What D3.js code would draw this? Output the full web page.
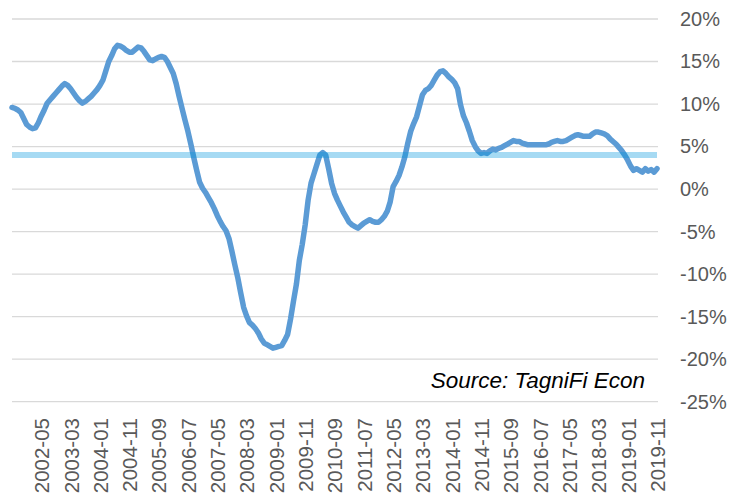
<!DOCTYPE html>
<html>
  <head>
    <meta charset="utf-8">
    <title>Growth rate</title>
    <script src="https://cdn.jsdelivr.net/npm/d3@7/dist/d3.min.js"></script>
    <style>
      body { margin: 0; background: #fff; }
      #chart { display: block; font-family: "Liberation Sans", Arial, sans-serif; }
      .grid line { stroke: #d9d9d9; stroke-width: 1.3; }
      .axis text { fill: #595959; }
      .axis path, .axis line { display: none; }
    </style>
  </head>

  <body>
    <svg id="chart" width="729" height="500"></svg>

    <script>
      // data
      startMonth = "2001-07";
      endMonth = "2019-11";
      values = [
        9.6, 9.5, 9.3, 9.0, 8.3, 7.6, 7.3, 7.1, 7.2, 7.8,
        8.6, 9.3, 10.1, 10.5, 10.9, 11.3, 11.7, 12.1, 12.4, 12.2,
        11.8, 11.3, 10.8, 10.4, 10.1, 10.3, 10.6, 10.9, 11.3, 11.7,
        12.2, 12.8, 13.9, 15.0, 15.7, 16.5, 16.9, 16.8, 16.6, 16.3,
        16.1, 16.1, 16.4, 16.7, 16.6, 16.2, 15.7, 15.2, 15.1, 15.3,
        15.5, 15.6, 15.5, 15.0, 14.3, 13.6, 12.4, 10.9, 9.5, 8.1,
        6.8, 5.3, 3.7, 2.2, 0.8, 0.1, -0.4, -1.0, -1.6, -2.3,
        -3.1, -3.8, -4.4, -4.9, -5.8, -7.3, -8.9, -10.4, -12.2, -13.9,
        -14.9, -15.7, -16.0, -16.4, -16.9, -17.6, -18.1, -18.3, -18.5, -18.7,
        -18.6, -18.5, -18.4, -17.8, -17.1, -15.3, -13.2, -11.2, -8.4, -6.5,
        -4.2, -1.3, 0.7, 1.8, 2.9, 4.0, 4.3, 4.0, 2.4, 0.7,
        -0.5, -1.3, -2.0, -2.7, -3.3, -3.9, -4.2, -4.4, -4.6, -4.3,
        -4.0, -3.8, -3.6, -3.8, -3.9, -3.9, -3.6, -3.2, -2.6, -1.5,
        0.3, 0.9, 1.6, 2.6, 3.8, 5.4, 6.8, 7.7, 8.5, 9.8,
        11.1, 11.6, 11.8, 12.2, 12.8, 13.4, 13.8, 13.9, 13.6, 13.2,
        12.9, 12.5, 11.8, 9.9, 8.6, 7.8, 6.8, 5.7, 5.0, 4.5,
        4.2, 4.3, 4.2, 4.5, 4.7, 4.6, 4.8, 4.9, 5.1, 5.3,
        5.5, 5.7, 5.6, 5.6, 5.4, 5.3, 5.2, 5.2, 5.2, 5.2,
        5.2, 5.2, 5.2, 5.3, 5.5, 5.6, 5.7, 5.6, 5.6, 5.7,
        5.9, 6.1, 6.3, 6.4, 6.3, 6.2, 6.2, 6.2, 6.5, 6.7,
        6.7, 6.6, 6.5, 6.3, 5.9, 5.6, 5.3, 4.9, 4.5, 4.0,
        3.4, 2.7, 2.2, 2.4, 2.2, 2.0, 2.4, 2.1, 2.3, 2.0,
        2.4
      ];
      referenceValue = 4.0;
      yTicks = [20, 15, 10, 5, 0, -5, -10, -15, -20, -25];
      labelEvery = 10;
      sourceText = "Source: TagniFi Econ";

      // month categories
      parseMonth = d3.timeParse("%Y-%m");
      formatMonth = d3.timeFormat("%Y-%m");
      months = d3.timeMonth.range(parseMonth(startMonth), d3.timeMonth.offset(parseMonth(endMonth), 1))
        .map(formatMonth);
      series = months.map(function(m, i) { return { month: m, value: values[i] }; });

      // elements
      svg = d3.select("#chart");

      x = d3.scalePoint()
        .domain(months)
        .range([12, 657]);

      y = d3.scaleLinear()
        .domain([-25, 20])
        .range([401.7, 19]);

      // gridlines
      svg.append("g")
          .attr("class", "grid")
        .selectAll("line")
          .data(yTicks)
        .enter().append("line")
          .attr("x1", 12)
          .attr("x2", 658)
          .attr("y1", function(d) { return y(d); })
          .attr("y2", function(d) { return y(d); });

      // series line
      line = d3.line()
        .x(function(d) { return x(d.month); })
        .y(function(d) { return y(d.value); });

      svg.append("path")
        .datum(series)
        .attr("fill", "none")
        .attr("stroke", "#5b9bd5")
        .attr("stroke-width", 5.5)
        .attr("stroke-linejoin", "round")
        .attr("stroke-linecap", "round")
        .attr("d", line);

      // reference line
      svg.append("line")
        .attr("x1", 12)
        .attr("x2", 657)
        .attr("y1", y(referenceValue))
        .attr("y2", y(referenceValue))
        .attr("stroke", "rgb(0,150,220)")
        .attr("stroke-opacity", 0.35)
        .attr("stroke-width", 6);

      // y axis on the right
      yAxis = d3.axisRight(y)
        .tickValues(yTicks)
        .tickSize(0)
        .tickPadding(23)
        .tickFormat(function(d) { return d + "%"; });

      svg.append("g")
          .attr("class", "axis")
          .attr("transform", "translate(657, 0)")
          .call(yAxis)
        .selectAll("text")
          .style("font-size", "20px");

      // x axis, rotated labels
      xAxis = d3.axisBottom(x)
        .tickValues(months.filter(function(d, i) { return i > 0 && i % labelEvery == 0; }))
        .tickSize(0)
        .tickPadding(0);

      svg.append("g")
          .attr("class", "axis")
          .attr("transform", "translate(0, 418)")
          .call(xAxis)
        .selectAll("text")
          .style("font-size", "20.5px")
          .attr("text-anchor", "end")
          .attr("transform", "rotate(-90)")
          .attr("x", 0)
          .attr("y", 0)
          .attr("dy", "0.36em")
          .attr("dx", 0);

      // source note
      svg.append("text")
        .attr("x", 645)
        .attr("y", 388)
        .attr("text-anchor", "end")
        .style("font-size", "22.5px")
        .style("font-style", "italic")
        .style("fill", "#000")
        .text(sourceText);
    </script>
  </body>
</html>
